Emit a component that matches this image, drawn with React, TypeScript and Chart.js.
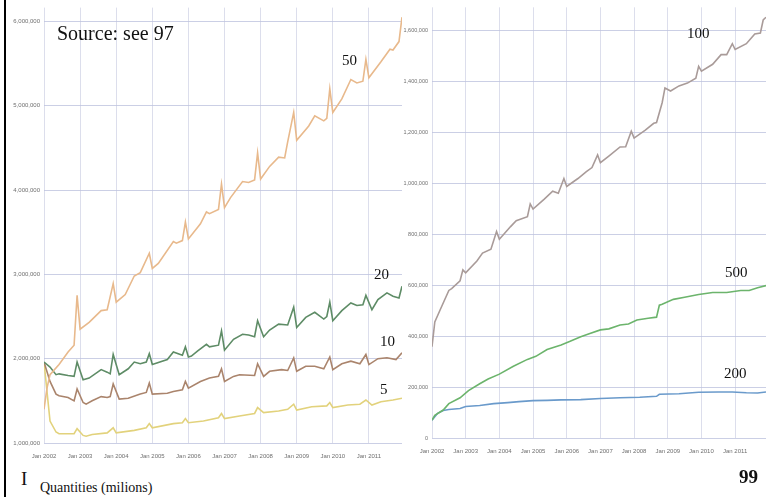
import React, { useEffect, useRef } from "react";
import { Chart, registerables } from "chart.js";

Chart.register(...registerables);

// x = month index (0 = Jan 2002)
const tickMonths = [0, 12, 24, 36, 48, 60, 72, 84, 96, 108];
const tickLabels = ["Jan 2002", "Jan 2003", "Jan 2004", "Jan 2005", "Jan 2006", "Jan 2007", "Jan 2008", "Jan 2009", "Jan 2010", "Jan 2011"];

const leftTicks = [1000000, 2000000, 3000000, 4000000, 5000000, 6000000];
const rightTicks = [0, 200000, 400000, 600000, 800000, 1000000, 1200000, 1400000, 1600000];

// Left panel (millions)
const s50Months = [0, 1, 2, 5, 8, 10, 11, 12, 15, 19, 21, 23, 24, 27, 30, 32, 35, 36, 38, 43, 44, 46, 47, 48, 52, 54, 55, 58, 59, 60, 62, 66, 68, 70, 71, 72, 75, 78, 80, 81, 83, 84, 88, 90, 93, 94, 95, 96, 99, 102, 104, 106, 107, 108, 112, 115, 116, 118, 119];
const s50Values = [1.40, 1.65, 1.81, 1.93, 2.08, 2.16, 2.75, 2.35, 2.43, 2.57, 2.58, 2.89, 2.67, 2.76, 2.98, 3.02, 3.25, 3.07, 3.13, 3.39, 3.37, 3.40, 3.62, 3.42, 3.60, 3.74, 3.72, 3.77, 4.07, 3.79, 3.91, 4.10, 4.09, 4.12, 4.44, 4.13, 4.28, 4.39, 4.38, 4.57, 4.92, 4.59, 4.76, 4.88, 4.82, 4.85, 5.20, 4.92, 5.08, 5.31, 5.27, 5.29, 5.55, 5.33, 5.52, 5.67, 5.66, 5.76, 6.05];

const s20Months = [0, 2, 4, 5, 8, 10, 11, 13, 15, 19, 21, 22, 23, 25, 28, 30, 32, 34, 35, 36, 41, 43, 46, 47, 48, 49, 51, 54, 55, 58, 59, 60, 63, 66, 68, 70, 71, 73, 75, 78, 81, 83, 84, 87, 90, 93, 94, 95, 96, 99, 102, 104, 106, 107, 109, 111, 114, 116, 118, 119];
const s20Values = [1.96, 1.90, 1.81, 1.82, 1.80, 1.79, 1.96, 1.75, 1.77, 1.87, 1.84, 1.82, 2.05, 1.81, 1.88, 1.96, 1.94, 1.96, 2.06, 1.93, 1.99, 2.08, 2.04, 2.14, 2.02, 2.03, 2.09, 2.17, 2.14, 2.16, 2.33, 2.10, 2.23, 2.29, 2.28, 2.26, 2.45, 2.26, 2.34, 2.41, 2.40, 2.61, 2.37, 2.49, 2.55, 2.47, 2.50, 2.67, 2.45, 2.57, 2.66, 2.63, 2.64, 2.75, 2.58, 2.70, 2.78, 2.74, 2.72, 2.86];

const s10Months = [0, 2, 4, 5, 8, 10, 11, 13, 14, 16, 19, 21, 22, 23, 25, 28, 32, 34, 35, 36, 41, 43, 46, 47, 48, 52, 55, 58, 59, 60, 63, 65, 70, 71, 73, 75, 79, 81, 83, 84, 87, 90, 93, 95, 96, 99, 102, 105, 107, 108, 111, 114, 117, 119];
const s10Values = [1.96, 1.73, 1.58, 1.56, 1.54, 1.50, 1.64, 1.48, 1.46, 1.50, 1.55, 1.54, 1.55, 1.70, 1.52, 1.53, 1.58, 1.60, 1.71, 1.58, 1.59, 1.61, 1.63, 1.73, 1.65, 1.73, 1.77, 1.79, 1.88, 1.73, 1.79, 1.81, 1.80, 1.94, 1.79, 1.85, 1.87, 1.86, 2.01, 1.85, 1.91, 1.91, 1.88, 2.02, 1.87, 1.94, 1.97, 1.94, 2.05, 1.93, 2.00, 2.01, 1.99, 2.07];

const s5Months = [0, 2, 4, 5, 10, 11, 13, 14, 16, 21, 23, 24, 30, 34, 35, 36, 43, 46, 47, 48, 53, 58, 59, 60, 65, 70, 71, 73, 78, 81, 83, 84, 89, 94, 95, 96, 101, 105, 107, 109, 112, 116, 119];
const s5Values = [1.96, 1.26, 1.13, 1.11, 1.11, 1.17, 1.09, 1.08, 1.10, 1.12, 1.18, 1.12, 1.15, 1.18, 1.23, 1.18, 1.23, 1.24, 1.29, 1.24, 1.26, 1.30, 1.35, 1.29, 1.32, 1.35, 1.42, 1.36, 1.38, 1.40, 1.46, 1.39, 1.43, 1.44, 1.48, 1.42, 1.45, 1.46, 1.51, 1.45, 1.49, 1.51, 1.53];

// Right panel (thousands)
const s100Months = [0, 1, 3, 6, 7, 10, 11, 12, 16, 18, 21, 23, 24, 28, 30, 34, 35, 36, 40, 43, 45, 47, 48, 52, 55, 57, 59, 60, 63, 67, 69, 71, 72, 76, 79, 80, 82, 83, 85, 88, 91, 94, 95, 96, 100, 103, 105, 107, 108, 112, 115, 117, 118, 119];
const s100Values = [359, 456, 506, 580, 587, 618, 661, 649, 696, 727, 742, 812, 781, 831, 854, 870, 920, 900, 939, 970, 962, 1020, 989, 1020, 1047, 1063, 1113, 1082, 1108, 1144, 1145, 1206, 1179, 1210, 1237, 1240, 1318, 1376, 1364, 1384, 1395, 1414, 1461, 1442, 1469, 1507, 1507, 1550, 1527, 1550, 1588, 1592, 1643, 1654];

const s500Months = [0, 1, 4, 6, 10, 13, 17, 20, 24, 29, 34, 37, 41, 46, 49, 53, 56, 60, 63, 67, 70, 73, 77, 80, 81, 82, 86, 90, 95, 100, 105, 110, 113, 116, 119];
const s500Values = [70, 89, 110, 135, 158, 186, 213, 232, 251, 282, 309, 321, 348, 366, 379, 398, 410, 425, 429, 444, 448, 464, 471, 475, 522, 526, 545, 553, 564, 572, 572, 580, 580, 591, 599];

const s200Months = [0, 2, 4, 6, 10, 12, 17, 22, 27, 31, 36, 41, 46, 53, 60, 67, 74, 80, 81, 88, 95, 102, 107, 112, 116, 119];
const s200Values = [70, 97, 108, 112, 116, 124, 128, 135, 139, 143, 147, 148, 150, 151, 155, 158, 160, 164, 172, 174, 180, 181, 181, 178, 177, 181];

const pts = (ms: number[], vs: number[], mult: number) => ms.map((m, i) => ({ x: m, y: vs[i] * mult }));

const fmt = (v: number) => Number(v).toLocaleString("en-US");

function baseOptions(yMin: number, yMax: number, yTicks: number[], yWidth: number, xHeight: number, padRight: number, yFont: number) {
  return {
    responsive: false,
    animation: false as const,
    layout: { padding: { left: 0, right: padRight, top: 0, bottom: 0 } },
    plugins: { legend: { display: false }, tooltip: { enabled: false } },
    elements: { point: { radius: 0 }, line: { borderWidth: 1.6, tension: 0 } },
    scales: {
      x: {
        type: "linear" as const,
        min: 0,
        max: 119,
        afterBuildTicks: (s: any) => { s.ticks = tickMonths.map((v) => ({ value: v })); },
        afterFit: (s: any) => { s.height = xHeight; },
        grid: { color: "rgba(205,208,228,0.7)", drawTicks: false, lineWidth: 1 },
        border: { display: false },
        ticks: {
          autoSkip: false,
          maxRotation: 0,
          padding: 10,
          color: "#6f6f6f",
          font: { size: 6, family: "Liberation Sans, Arial, sans-serif" },
          callback: (v: any) => { const i = tickMonths.indexOf(Number(v)); return i >= 0 ? tickLabels[i] : ""; },
        },
      },
      y: {
        min: yMin,
        max: yMax,
        afterBuildTicks: (s: any) => { s.ticks = yTicks.map((v) => ({ value: v })); },
        afterFit: (s: any) => { s.width = yWidth; },
        grid: { color: "rgba(190,195,222,0.8)", drawTicks: false, lineWidth: 1 },
        border: { display: false },
        ticks: {
          padding: 4,
          color: "#6f6f6f",
          font: { size: yFont, family: "Liberation Sans, Arial, sans-serif" },
          callback: (v: any) => fmt(v),
        },
      },
    },
  };
}

function LeftChart() {
  const ref = useRef<HTMLCanvasElement>(null);
  useEffect(() => {
    const M = 1000000;
    const c = new Chart(ref.current!, {
      type: "line",
      data: {
        datasets: [
          { data: pts(s50Months, s50Values, M), borderColor: "#e8b98c" },
          { data: pts(s20Months, s20Values, M), borderColor: "#5e8c66" },
          { data: pts(s10Months, s10Values, M), borderColor: "#aa846c" },
          { data: pts(s5Months, s5Values, M), borderColor: "#e2d27c" },
        ],
      },
      options: baseOptions(1000000, 6163000, leftTicks, 44, 23, 2, 6) as any,
    });
    return () => c.destroy();
  }, []);
  return <canvas ref={ref} width={404} height={466} style={{ position: "absolute", left: 0, top: 0, width: 404, height: 466 }} />;
}

function RightChart() {
  const ref = useRef<HTMLCanvasElement>(null);
  useEffect(() => {
    const K = 1000;
    const c = new Chart(ref.current!, {
      type: "line",
      data: {
        datasets: [
          { data: pts(s100Months, s100Values, K), borderColor: "#a99b99" },
          { data: pts(s500Months, s500Values, K), borderColor: "#6cb46c" },
          { data: pts(s200Months, s200Values, K), borderColor: "#6a9acb" },
        ],
      },
      options: baseOptions(0, 1693000, rightTicks, 34, 28, 2, 5.5) as any,
    });
    return () => c.destroy();
  }, []);
  return <canvas ref={ref} width={370} height={466} style={{ position: "absolute", left: 398, top: 0, width: 370, height: 466 }} />;
}

const serif = "'Liberation Serif', 'DejaVu Serif', serif";

function Label({ x, y, text, size = 15, bold = false }: { x: number; y: number; text: string; size?: number; bold?: boolean }) {
  return (
    <div style={{ position: "absolute", left: x, top: y, fontFamily: serif, fontSize: size, fontWeight: bold ? 700 : 400, color: "#111", whiteSpace: "nowrap", lineHeight: 1 }}>
      {text}
    </div>
  );
}

export default function App() {
  return (
    <div style={{ position: "fixed", left: 0, top: 0, width: 774, height: 497, background: "#fff", overflow: "hidden" }}>
      <LeftChart />
      <RightChart />
      <div style={{ position: "absolute", left: 4, top: 0, width: 2, height: 497, background: "#000" }} />
      <Label x={57} y={23} text="Source: see 97" size={20} />
      <Label x={342} y={53} text="50" />
      <Label x={374} y={267} text="20" />
      <Label x={380} y={334} text="10" />
      <Label x={380} y={382} text="5" />
      <Label x={687} y={26} text="100" />
      <Label x={725} y={265} text="500" />
      <Label x={724} y={366} text="200" />
      <Label x={21} y={469} text="I" size={19} />
      <Label x={40} y={481} text="Quantities (milions)" size={14} />
      <Label x={739} y={467} text="99" size={19} bold />
    </div>
  );
}
